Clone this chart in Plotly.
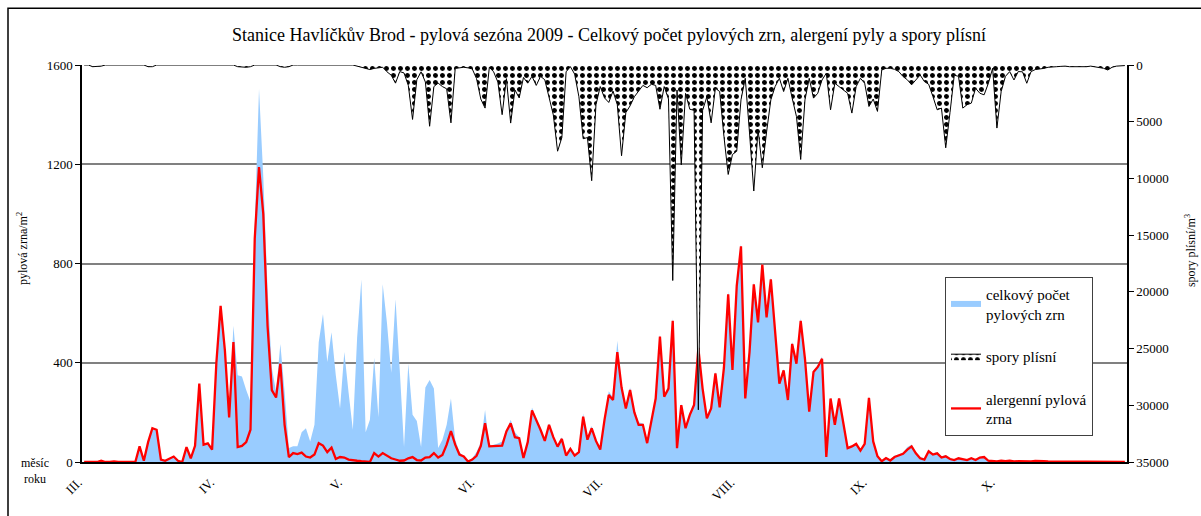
import plotly.graph_objects as go

# ---------------- data ----------------
days = list(range(245))  # 1.3. - 31.10.2009
month_idx = [0, 31, 61, 92, 122, 153, 184, 214]
month_labels = ["III.", "IV.", "V.", "VI.", "VII.", "VIII.", "IX.", "X."]

total_pollen = [
    0, 0, 0, 0, 3, 0, 0, 0, 0, 0, 0, 0,
    5, 63, 5, 80, 136, 130, 10, 5, 15, 22, 5, 0,
    60, 15, 65, 316, 70, 75, 50, 400, 629, 450, 200, 549,
    350, 345, 290, 243, 950, 1503, 1150, 700, 380, 283, 476, 283,
    56, 63, 63, 120, 136, 83, 150, 483, 596, 403, 523, 350,
    216, 443, 280, 130, 500, 736, 120, 170, 420, 180, 716, 560,
    360, 656, 370, 60, 396, 190, 165, 60, 300, 330, 296, 56,
    90, 150, 256, 90, 40, 20, 2, 15, 40, 80, 210, 63,
    70, 75, 83, 120, 170, 120, 100, 30, 90, 220, 175, 135,
    90, 155, 105, 65, 100, 30, 58, 30, 45, 195, 95, 145,
    90, 55, 180, 285, 260, 489, 310, 225, 300, 210, 160, 155,
    85, 170, 265, 515, 270, 305, 580, 60, 235, 145, 200, 240,
    470, 305, 185, 225, 365, 225, 390, 690, 380, 720, 880, 265,
    450, 725, 570, 805, 590, 745, 530, 325, 375, 255, 485, 405,
    580, 425, 210, 370, 390, 425, 25, 260, 155, 260, 160, 60,
    65, 78, 50, 78, 265, 88, 28, 5, 20, 10, 25, 30,
    38, 60, 70, 40, 20, 15, 48, 35, 40, 22, 28, 15,
    10, 18, 12, 10, 18, 10, 20, 22, 6, 4, 3, 6,
    4, 6, 3, 4, 3, 5, 3, 5, 3, 4, 3, 3,
    4, 3, 0, 0, 0, 0, 0, 0, 0, 0, 0, 0, 0, 0, 0, 0, 0,
]

allergenic = [
    0, 0, 0, 0, 5, 0, 0, 2, 0, 0, 2, 0,
    0, 63, 5, 80, 136, 130, 10, 5, 15, 22, 5, 0,
    60, 15, 65, 316, 70, 75, 50, 400, 629, 450, 180, 483,
    60, 65, 80, 130, 900, 1189, 1000, 549, 290, 260, 396, 150,
    20, 36, 32, 38, 22, 18, 30, 76, 66, 40, 58, 12,
    20, 18, 10, 6, 5, 3, 2, 0, 36, 22, 36, 25,
    15, 10, 5, 6, 15, 20, 8, 6, 18, 20, 36, 18,
    28, 70, 125, 70, 30, 22, 2, 10, 25, 65, 156, 63,
    63, 63, 66, 123, 156, 100, 96, 16, 80, 208, 170, 130,
    85, 150, 100, 62, 93, 26, 53, 26, 40, 183, 90, 136,
    85, 50, 170, 270, 250, 443, 300, 216, 290, 200, 150, 150,
    76, 163, 256, 505, 263, 296, 569, 56, 229, 136, 190, 230,
    459, 296, 176, 216, 357, 220, 380, 676, 371, 709, 869, 256,
    443, 716, 563, 796, 583, 736, 523, 316, 369, 250, 476, 396,
    569, 416, 203, 363, 383, 416, 20, 256, 150, 256, 156, 56,
    63, 73, 46, 73, 259, 83, 23, 3, 16, 6, 20, 26,
    33, 50, 63, 35, 15, 10, 43, 30, 35, 18, 23, 12,
    8, 15, 10, 8, 15, 8, 18, 20, 5, 3, 2, 5,
    3, 5, 2, 3, 2, 4, 2, 4, 2, 3, 2, 2,
    3, 2, 0, 0, 0, 0, 0, 0, 0, 0, 0, 0, 0, 0, 0, 0, 0,
]

spores = [
    0, 0, 150, 150, 100, 0, 0, 0, 0, 0, 0, 0,
    0, 0, 0, 150, 150, 0, 0, 0, 0, 0, 0, 0,
    0, 0, 0, 0, 0, 0, 0, 0, 0, 0, 0, 0,
    150, 200, 200, 150, 0, 0, 0, 0, 0, 0, 150, 200,
    150, 0, 0, 0, 0, 0, 0, 0, 0, 0, 0, 0,
    0, 0, 0, 0, 100, 200, 250, 400, 300, 250, 200, 600,
    900, 1600, 580, 700, 1800, 4800, 1300, 600, 1500, 5400, 1900, 1600,
    1900, 2100, 5100, 300, 250, 200, 250, 350, 1200, 3000, 3800, 200,
    600, 1500, 4380, 1200, 5120, 2200, 2900, 1100, 1600, 1000, 1800, 1000,
    1300, 2800, 4400, 7600, 6400, 600, 150, 800, 2800, 6500, 6400, 10200,
    3500, 1900, 2900, 3300, 2300, 3500, 8000, 4200, 3600, 2800, 2300, 1800,
    2000, 1700, 1800, 3900, 1900, 3000, 19000, 2200, 8800, 2500, 3900, 4000,
    30400, 4000, 2800, 5100, 2050, 2340, 6290, 9650, 7890, 7600, 3070, 1170,
    5990, 11110, 5700, 9060, 5900, 3070, 1900, 1170, 2340, 1170, 2920, 4530,
    8330, 3070, 1170, 2920, 2490, 1320, 730, 3950, 1610, 1900, 2200, 2490,
    4240, 1900, 1170, 1610, 3660, 3000, 4090, 440, 290, 290, 380, 580,
    1020, 1300, 1750, 1300, 880, 1460, 1700, 2780, 3950, 3800, 7300, 4200,
    900, 1000, 3800, 3500, 3360, 2050, 2490, 2630, 1610, 290, 5560, 2340,
    1000, 580, 1320, 580, 600, 1610, 580, 400, 380, 300, 200, 200,
    150, 120, 100, 150, 150, 200, 200, 150, 100, 150, 200, 290, 440, 200, 100, 80, 50,
]

# ---------------- figure ----------------
FONT = "Liberation Serif, Times New Roman, serif"
W, H = 1201, 516
L, R, T, B = 82, 74, 65, 52
pw = W - L - R
ph = H - T - B

fig = go.Figure()
fig.add_trace(go.Scatter(
    x=days, y=total_pollen, mode="none", fill="tozeroy",
    fillcolor="#99CCFF", name="celkový počet<br>pylových zrn",
    legendgroup="a", legendrank=1))
fig.add_trace(go.Scatter(
    x=days, y=allergenic, mode="lines",
    line=dict(color="#FF0000", width=2.3),
    name="alergenní pylová<br>zrna", legendgroup="c", legendrank=3))
fig.add_trace(go.Scatter(
    x=days, y=spores, yaxis="y2", mode="lines",
    line=dict(color="black", width=1), fill="tozeroy", fillcolor="white",
    fillpattern=dict(shape=".", fgcolor="black", bgcolor="white",
                     fgopacity=1, size=7, solidity=0.4),
    name="spory plísní", legendgroup="b", legendrank=2))

fig.update_layout(
    width=W, height=H,
    margin=dict(l=L, r=R, t=T, b=B),
    paper_bgcolor="white", plot_bgcolor="white",
    font=dict(family=FONT, size=13, color="black"),
    title=dict(
        text="Stanice Havlíčkův Brod - pylová sezóna 2009 - Celkový počet pylových zrn, alergení pyly a spory plísní",
        x=609 / W, xanchor="center", y=1 - 35 / H, yanchor="middle",
        font=dict(family=FONT, size=18)),
    xaxis=dict(
        range=[-0.5, 244.5], tickvals=month_idx, ticktext=month_labels,
        tickangle=-45, showgrid=False, zeroline=False,
        showline=True, linecolor="black", linewidth=1.5,
        ticks="", ticklabelshift=-6, ticklabelstandoff=6,
        tickfont=dict(family=FONT, size=13)),
    yaxis=dict(
        range=[0, 1600], dtick=400, showgrid=True,
        gridcolor="#808080", gridwidth=1.5, zeroline=False,
        showline=True, linecolor="black", linewidth=1.5,
        ticks="outside", ticklen=5, tickcolor="black",
        tickfont=dict(family=FONT, size=13)),
    yaxis2=dict(
        range=[35000, 0], dtick=5000, overlaying="y", side="right",
        showgrid=False, zeroline=False, tickformat="d",
        showline=True, linecolor="black", linewidth=1.5,
        ticks="outside", ticklen=5, tickcolor="black",
        tickfont=dict(family=FONT, size=13)),
    showlegend=True,
    legend=dict(
        x=(945 - L) / pw, xanchor="left",
        y=(464 - 278) / ph, yanchor="top",
        bgcolor="white", bordercolor="#404040", borderwidth=1,
        font=dict(family=FONT, size=15), tracegroupgap=20,
        itemwidth=30),
)

fig.add_shape(type="rect", xref="paper", yref="paper",
              x0=(8 - L) / pw, x1=(1220 - L) / pw,
              y0=(464 - 540) / ph, y1=(464 - 8) / ph,
              line=dict(color="black", width=1.5), layer="below")

fig.add_annotation(text="pylová zrna/m<sup>2</sup>", xref="paper", yref="paper",
                   x=(22 - L) / pw, y=(464 - 250) / ph, textangle=-90,
                   xanchor="center", yanchor="middle",
                   showarrow=False, font=dict(family=FONT, size=12))
fig.add_annotation(text="spory plísní/m<sup>3</sup>", xref="paper", yref="paper",
                   x=(1190 - L) / pw, y=(464 - 252) / ph, textangle=-90,
                   xanchor="center", yanchor="middle",
                   showarrow=False, font=dict(family=FONT, size=12))
fig.add_annotation(text="měsíc<br>roku", xref="paper", yref="paper",
                   x=(35 - L) / pw, y=(464 - 473) / ph, showarrow=False,
                   xanchor="center", yanchor="middle",
                   align="center", font=dict(family=FONT, size=12))

fig.write_html("out.html")
